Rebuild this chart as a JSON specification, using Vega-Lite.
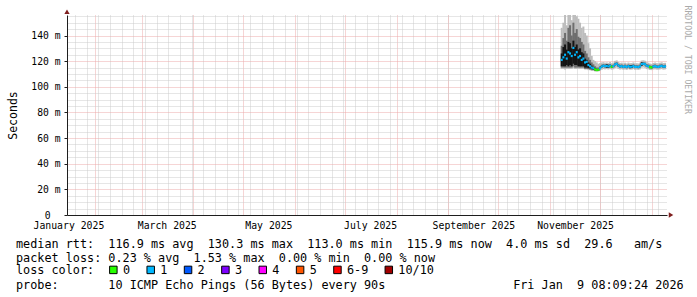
{
  "$schema": "https://vega.github.io/schema/vega-lite/v6.json",
  "width": 600,
  "height": 200,
  "autosize": {"type": "none"},
  "padding": {"left": 67, "top": 15, "right": 30, "bottom": 82},
  "background": "#ffffff",
  "config": {"view": {"stroke": null}, "font": "DejaVu Sans Mono"},
  "title": {
    "text": [
      "median rtt:\u00a0\u00a0116.9 ms avg\u00a0\u00a0130.3 ms max\u00a0\u00a0113.0 ms min\u00a0\u00a0115.9 ms now\u00a0\u00a04.0 ms sd\u00a0\u00a029.6\u00a0\u00a0\u00a0am/s",
      "packet loss: 0.23 % avg\u00a0\u00a01.53 % max\u00a0\u00a00.00 % min\u00a0\u00a00.00 % now"
    ],
    "subtitle": "probe:\u00a0\u00a0\u00a0\u00a0\u00a0\u00a0\u00a010 ICMP Echo Pings (56 Bytes) every 90s\u00a0\u00a0\u00a0\u00a0\u00a0\u00a0\u00a0\u00a0\u00a0\u00a0\u00a0\u00a0\u00a0\u00a0\u00a0\u00a0\u00a0\u00a0Fri Jan\u00a0\u00a09 08:09:24 2026",
    "orient": "bottom",
    "anchor": "start",
    "frame": "group",
    "offset": -38,
    "dx": -51,
    "font": "DejaVu Sans Mono",
    "fontSize": 11.8,
    "fontWeight": "normal",
    "color": "#000000",
    "lineHeight": 13.67,
    "baseline": "top",
    "subtitleFont": "DejaVu Sans Mono",
    "subtitleFontSize": 11.8,
    "subtitleFontWeight": "normal",
    "subtitleColor": "#000000",
    "subtitlePadding": 15.5,
    "limit": 1000
  },
  "data": {
    "values": [
      {"d":"2025-11-08","lo":114,"p1":115,"c1":116,"med":121,"c2":126,"p2":132,"hi":146,"loss":"1"},
      {"d":"2025-11-09","lo":114,"p1":115,"c1":116,"med":123,"c2":131,"p2":138,"hi":150,"loss":"1"},
      {"d":"2025-11-10","lo":113.5,"p1":115,"c1":116,"med":125,"c2":133,"p2":142,"hi":157,"loss":"1"},
      {"d":"2025-11-11","lo":114,"p1":115,"c1":117,"med":122,"c2":129,"p2":136,"hi":148,"loss":"1"},
      {"d":"2025-11-12","lo":114,"p1":115,"c1":116,"med":127,"c2":135,"p2":146,"hi":158,"loss":"1"},
      {"d":"2025-11-13","lo":114,"p1":115,"c1":117,"med":126,"c2":134,"p2":148,"hi":158,"loss":"1"},
      {"d":"2025-11-14","lo":114,"p1":115,"c1":116,"med":124,"c2":130,"p2":140,"hi":152,"loss":"1"},
      {"d":"2025-11-15","lo":114.5,"p1":116,"c1":118,"med":130.3,"c2":136,"p2":150,"hi":158,"loss":"1"},
      {"d":"2025-11-16","lo":114,"p1":115,"c1":117,"med":125,"c2":131,"p2":142,"hi":156,"loss":"1"},
      {"d":"2025-11-17","lo":114,"p1":115,"c1":117,"med":127,"c2":133,"p2":145,"hi":155,"loss":"1"},
      {"d":"2025-11-18","lo":114,"p1":115,"c1":116,"med":123,"c2":129,"p2":139,"hi":153,"loss":"1"},
      {"d":"2025-11-19","lo":114,"p1":115,"c1":116,"med":124,"c2":130,"p2":138,"hi":150,"loss":"1"},
      {"d":"2025-11-20","lo":114,"p1":115,"c1":116,"med":121,"c2":127,"p2":135,"hi":146,"loss":"1"},
      {"d":"2025-11-21","lo":114,"p1":115,"c1":116,"med":122,"c2":126,"p2":133,"hi":147,"loss":"1"},
      {"d":"2025-11-22","lo":113.5,"p1":114,"c1":115,"med":119,"c2":122,"p2":128,"hi":142,"loss":"1"},
      {"d":"2025-11-23","lo":113.5,"p1":114,"c1":115,"med":119.5,"c2":121,"p2":126,"hi":140,"loss":"1"},
      {"d":"2025-11-24","lo":113,"p1":114,"c1":114.5,"med":117,"c2":119,"p2":123,"hi":134,"loss":"1"},
      {"d":"2025-11-25","lo":113,"p1":113.5,"c1":114.5,"med":116,"c2":118,"p2":121,"hi":130,"loss":"1"},
      {"d":"2025-11-26","lo":112.5,"p1":113,"c1":114,"med":115,"c2":116.5,"p2":119,"hi":124,"loss":"1"},
      {"d":"2025-11-27","lo":112.5,"p1":113,"c1":113.5,"med":114.5,"c2":115.5,"p2":117.5,"hi":121,"loss":"1"},
      {"d":"2025-11-28","lo":112,"p1":112.5,"c1":113,"med":113.6,"c2":114.5,"p2":116,"hi":120,"loss":"0"},
      {"d":"2025-11-29","lo":112,"p1":112.5,"c1":112.7,"med":113.0,"c2":113.5,"p2":115,"hi":119,"loss":"0"},
      {"d":"2025-11-30","lo":112,"p1":112.5,"c1":112.8,"med":113.3,"c2":113.8,"p2":115,"hi":118,"loss":"0"},
      {"d":"2025-12-01","lo":112.3,"p1":113.6,"c1":114.0,"med":114.5,"c2":115.0,"p2":116.0,"hi":118.5,"loss":"1"},
      {"d":"2025-12-02","lo":113.3,"p1":114.8,"c1":115.3,"med":115.8,"c2":116.3,"p2":117.2,"hi":119.0,"loss":"1"},
      {"d":"2025-12-03","lo":113.8,"p1":115.4,"c1":115.9,"med":116.4,"c2":116.9,"p2":117.7,"hi":119.2,"loss":"1"},
      {"d":"2025-12-04","lo":113.6,"p1":115.0,"c1":115.5,"med":116.0,"c2":116.5,"p2":117.3,"hi":118.8,"loss":"1"},
      {"d":"2025-12-05","lo":113.8,"p1":114.9,"c1":115.0,"med":116.3,"c2":117.5,"p2":117.8,"hi":119.0,"loss":"1"},
      {"d":"2025-12-06","lo":113.5,"p1":114.7,"c1":114.8,"med":115.9,"c2":117.1,"p2":117.4,"hi":118.7,"loss":"1"},
      {"d":"2025-12-07","lo":114.0,"p1":115.5,"c1":116.0,"med":116.5,"c2":117.0,"p2":117.8,"hi":119.3,"loss":"1"},
      {"d":"2025-12-08","lo":113.4,"p1":114.6,"c1":115.1,"med":115.6,"c2":116.1,"p2":116.9,"hi":118.4,"loss":"0"},
      {"d":"2025-12-09","lo":113.7,"p1":115.1,"c1":115.6,"med":116.1,"c2":116.6,"p2":117.4,"hi":118.9,"loss":"1"},
      {"d":"2025-12-10","lo":114.6,"p1":116.4,"c1":116.9,"med":117.4,"c2":117.9,"p2":118.7,"hi":120.2,"loss":"1"},
      {"d":"2025-12-11","lo":115.0,"p1":116.9,"c1":117.4,"med":117.9,"c2":118.4,"p2":119.2,"hi":120.6,"loss":"1"},
      {"d":"2025-12-12","lo":114.0,"p1":115.6,"c1":116.1,"med":116.6,"c2":117.1,"p2":117.9,"hi":119.4,"loss":"1"},
      {"d":"2025-12-13","lo":113.5,"p1":114.8,"c1":115.3,"med":115.8,"c2":116.3,"p2":117.1,"hi":118.6,"loss":"1"},
      {"d":"2025-12-14","lo":113.7,"p1":115.1,"c1":115.6,"med":116.1,"c2":116.6,"p2":117.4,"hi":118.9,"loss":"1"},
      {"d":"2025-12-15","lo":113.3,"p1":114.5,"c1":115.0,"med":115.5,"c2":116.0,"p2":116.8,"hi":118.3,"loss":"1"},
      {"d":"2025-12-16","lo":113.6,"p1":115.0,"c1":115.5,"med":116.0,"c2":116.5,"p2":117.3,"hi":118.8,"loss":"1"},
      {"d":"2025-12-17","lo":113.2,"p1":114.4,"c1":114.9,"med":115.4,"c2":115.9,"p2":116.7,"hi":118.2,"loss":"1"},
      {"d":"2025-12-18","lo":113.7,"p1":115.1,"c1":115.6,"med":116.1,"c2":116.6,"p2":117.4,"hi":118.9,"loss":"1"},
      {"d":"2025-12-19","lo":113.4,"p1":114.5,"c1":114.5,"med":115.6,"c2":116.8,"p2":117.0,"hi":118.4,"loss":"1"},
      {"d":"2025-12-20","lo":113.4,"p1":114.6,"c1":114.6,"med":115.7,"c2":116.9,"p2":117.1,"hi":118.5,"loss":"1"},
      {"d":"2025-12-21","lo":113.8,"p1":115.2,"c1":115.7,"med":116.2,"c2":116.7,"p2":117.5,"hi":119.0,"loss":"1"},
      {"d":"2025-12-22","lo":113.3,"p1":114.5,"c1":115.0,"med":115.5,"c2":116.0,"p2":116.8,"hi":118.3,"loss":"1"},
      {"d":"2025-12-23","lo":113.4,"p1":114.6,"c1":115.1,"med":115.6,"c2":116.1,"p2":116.9,"hi":118.4,"loss":"1"},
      {"d":"2025-12-24","lo":113.2,"p1":114.4,"c1":114.9,"med":115.4,"c2":115.9,"p2":116.7,"hi":118.2,"loss":"1"},
      {"d":"2025-12-25","lo":113.6,"p1":115.0,"c1":115.5,"med":116.0,"c2":116.5,"p2":117.3,"hi":118.8,"loss":"1"},
      {"d":"2025-12-26","lo":114.9,"p1":116.5,"c1":116.4,"med":117.7,"c2":119.0,"p2":119.2,"hi":120.5,"loss":"1"},
      {"d":"2025-12-27","lo":115.1,"p1":117.0,"c1":117.5,"med":118.0,"c2":118.5,"p2":119.3,"hi":120.7,"loss":"1"},
      {"d":"2025-12-28","lo":114.8,"p1":116.6,"c1":117.1,"med":117.6,"c2":118.1,"p2":118.9,"hi":120.3,"loss":"1"},
      {"d":"2025-12-29","lo":113.8,"p1":115.4,"c1":115.9,"med":116.4,"c2":116.9,"p2":117.7,"hi":119.2,"loss":"1"},
      {"d":"2025-12-30","lo":113.6,"p1":115.0,"c1":115.5,"med":116.0,"c2":116.5,"p2":117.3,"hi":118.8,"loss":"1"},
      {"d":"2025-12-31","lo":113.1,"p1":114.3,"c1":114.8,"med":115.3,"c2":115.8,"p2":116.6,"hi":118.1,"loss":"0"},
      {"d":"2026-01-01","lo":113.0,"p1":114.1,"c1":114.6,"med":115.1,"c2":115.6,"p2":116.4,"hi":117.9,"loss":"0"},
      {"d":"2026-01-02","lo":113.5,"p1":114.8,"c1":115.3,"med":115.8,"c2":116.3,"p2":117.1,"hi":118.6,"loss":"1"},
      {"d":"2026-01-03","lo":113.7,"p1":115.1,"c1":115.6,"med":116.1,"c2":116.6,"p2":117.4,"hi":118.9,"loss":"1"},
      {"d":"2026-01-04","lo":113.4,"p1":114.6,"c1":115.1,"med":115.6,"c2":116.1,"p2":116.9,"hi":118.4,"loss":"1"},
      {"d":"2026-01-05","lo":113.3,"p1":114.5,"c1":115.0,"med":115.5,"c2":116.0,"p2":116.8,"hi":118.3,"loss":"1"},
      {"d":"2026-01-06","lo":113.6,"p1":115.0,"c1":115.5,"med":116.0,"c2":116.5,"p2":117.3,"hi":118.8,"loss":"1"},
      {"d":"2026-01-07","lo":113.8,"p1":115.3,"c1":115.8,"med":116.3,"c2":116.8,"p2":117.6,"hi":119.1,"loss":"1"},
      {"d":"2026-01-08","lo":113.4,"p1":114.7,"c1":115.2,"med":115.7,"c2":116.2,"p2":117.0,"hi":118.5,"loss":"1"},
      {"d":"2026-01-09","lo":113.6,"p1":114.9,"c1":115.4,"med":115.9,"c2":116.4,"p2":117.2,"hi":118.7,"loss":"1"}
    ]
  },
  "layer": [
    {
      "mark": {"type": "bar", "width": 2, "color": "#bdbdbd", "clip": true},
      "encoding": {
        "x": {
          "field": "d", "type": "temporal",
          "scale": {"type": "utc", "domain": [{"year": 2025, "month": 1, "date": 15, "hours": 4, "utc": true}, {"year": 2026, "month": 1, "date": 10, "hours": 4, "utc": true}], "nice": false, "padding": 0},
          "axis": {
            "orient": "bottom",
            "values": {"expr": "sequence(1737331200000, 1768176000001, 604800000)"},
            "grid": true, "gridColor": "#cccccc", "gridDash": [1, 1], "gridWidth": 1,
            "labels": false, "ticks": false, "domain": false, "title": null
          }
        },
        "y": {
          "field": "lo", "type": "quantitative",
          "scale": {"domain": [0, 156], "nice": false, "zero": false, "padding": 0},
          "axis": {
            "orient": "left",
            "values": [0, 5, 10, 15, 20, 25, 30, 35, 40, 45, 50, 55, 60, 65, 70, 75, 80, 85, 90, 95, 100, 105, 110, 115, 120, 125, 130, 135, 140, 145, 150, 155],
            "grid": true,
            "gridColor": {"condition": {"test": "datum.value % 20 === 0", "value": "#ecaaaa"}, "value": "#cccccc"},
            "gridOpacity": {"condition": {"test": "datum.value === 0", "value": 0}, "value": 1},
            "gridDash": [1, 1], "gridWidth": 1,
            "domain": true, "domainColor": "#1e1e1e", "domainWidth": 1,
            "ticks": true, "tickSize": 3, "tickColor": "#1e1e1e",
            "tickOpacity": {"condition": {"test": "datum.value % 20 === 0", "value": 1}, "value": 0},
            "labelExpr": "datum.value === 0 ? '0' : (datum.value % 20 === 0 ? datum.value + ' m' : '')",
            "labelFont": "DejaVu Sans Mono", "labelFontSize": 9.7, "labelColor": "#000000",
            "labelPadding": {"condition": {"test": "datum.value === 0", "value": 14}, "value": 4},
            "labelOverlap": false, "labelFlush": false,
            "title": "Seconds", "titleFont": "DejaVu Sans Mono", "titleFontSize": 11.5,
            "titleFontWeight": "normal", "titleColor": "#000000", "titlePadding": 12
          }
        },
        "y2": {"field": "hi"}
      }
    },
    {
      "mark": {"type": "bar", "width": 2, "color": "#6e6e6e", "clip": true},
      "encoding": {
        "x": {
          "field": "d", "type": "temporal",
          "scale": {"type": "utc", "domain": [{"year": 2025, "month": 1, "date": 15, "hours": 4, "utc": true}, {"year": 2026, "month": 1, "date": 10, "hours": 4, "utc": true}], "nice": false, "padding": 0},
          "axis": {
            "orient": "bottom",
            "values": [
              {"year": 2025, "month": 2, "date": 1, "utc": true},
              {"year": 2025, "month": 3, "date": 1, "utc": true},
              {"year": 2025, "month": 4, "date": 1, "utc": true},
              {"year": 2025, "month": 5, "date": 1, "utc": true},
              {"year": 2025, "month": 6, "date": 1, "utc": true},
              {"year": 2025, "month": 7, "date": 1, "utc": true},
              {"year": 2025, "month": 8, "date": 1, "utc": true},
              {"year": 2025, "month": 9, "date": 1, "utc": true},
              {"year": 2025, "month": 10, "date": 1, "utc": true},
              {"year": 2025, "month": 11, "date": 1, "utc": true},
              {"year": 2025, "month": 12, "date": 1, "utc": true},
              {"year": 2026, "month": 1, "date": 1, "utc": true}
            ],
            "grid": true, "gridColor": "#ecaaaa", "gridDash": [1, 1], "gridWidth": 1,
            "labels": false, "ticks": false, "domain": false, "title": null
          }
        },
        "y": {"field": "p1", "type": "quantitative", "scale": {"domain": [0, 156], "nice": false, "zero": false, "padding": 0}, "axis": null},
        "y2": {"field": "p2"}
      }
    },
    {
      "mark": {"type": "bar", "width": 2, "color": "#141414", "clip": true},
      "encoding": {
        "x": {
          "field": "d", "type": "temporal",
          "scale": {"type": "utc", "domain": [{"year": 2025, "month": 1, "date": 15, "hours": 4, "utc": true}, {"year": 2026, "month": 1, "date": 10, "hours": 4, "utc": true}], "nice": false, "padding": 0},
          "axis": null
        },
        "y": {
          "field": "c1", "type": "quantitative",
          "scale": {"domain": [0, 156], "nice": false, "zero": false, "padding": 0},
          "axis": {
            "orient": "right", "domain": false, "ticks": false, "labels": false, "grid": false,
            "title": "RRDTOOL / TOBI OETIKER", "titleAngle": 90,
            "titleFont": "DejaVu Sans Mono", "titleFontSize": 8.2, "titleFontWeight": "normal",
            "titleColor": "#aaaaaa", "titleX": 19, "titleY": -10, "titleAlign": "left", "titleBaseline": "middle"
          }
        },
        "y2": {"field": "c2"}
      }
    },
    {
      "mark": {"type": "tick", "orient": "horizontal", "size": 2, "thickness": 2.2, "opacity": 1},
      "encoding": {
        "x": {
          "field": "d", "type": "temporal",
          "scale": {"type": "utc", "domain": [{"year": 2025, "month": 1, "date": 15, "hours": 4, "utc": true}, {"year": 2026, "month": 1, "date": 10, "hours": 4, "utc": true}], "nice": false, "padding": 0},
          "axis": {
            "orient": "bottom",
            "values": [
              {"year": 2025, "month": 1, "date": 16, "utc": true},
              {"year": 2025, "month": 3, "date": 16, "utc": true},
              {"year": 2025, "month": 5, "date": 16, "utc": true},
              {"year": 2025, "month": 7, "date": 16, "utc": true},
              {"year": 2025, "month": 9, "date": 16, "utc": true},
              {"year": 2025, "month": 11, "date": 16, "utc": true}
            ],
            "labelExpr": "utcFormat(datum.value, '%B %Y')",
            "grid": false, "ticks": false, "domain": true, "domainColor": "#1e1e1e", "domainWidth": 1,
            "labelFont": "DejaVu Sans Mono", "labelFontSize": 9.8, "labelColor": "#000000",
            "labelPadding": 5.5, "labelOverlap": false, "labelFlush": false, "labelBound": false,
            "title": null
          }
        },
        "y": {"field": "med", "type": "quantitative", "scale": {"domain": [0, 156], "nice": false, "zero": false, "padding": 0}, "axis": null},
        "color": {
          "field": "loss", "type": "nominal",
          "scale": {
            "domain": ["0", "1", "2", "3", "4", "5", "6-9", "10/10"],
            "range": ["#26ff00", "#00b8ff", "#0059ff", "#7e00ff", "#ff00ff", "#ff5500", "#ff0000", "#a10000"]
          },
          "legend": {
            "orient": "none", "legendX": -51, "legendY": 249, "direction": "horizontal",
            "title": "loss color:", "titleOrient": "left",
            "titleFont": "DejaVu Sans Mono", "titleFontSize": 11.8, "titleFontWeight": "normal", "titleColor": "#000000",
            "titlePadding": 12.45, "titleBaseline": "middle",
            "labelFont": "DejaVu Sans Mono", "labelFontSize": 11.8, "labelColor": "#000000",
            "labelOffset": 3.65, "columnPadding": 14.35, "gridAlign": "none",
            "symbolType": "square", "symbolSize": 56, "symbolStrokeColor": "#000000", "symbolStrokeWidth": 1,
            "symbolOpacity": 1, "padding": 0, "offset": 0
          }
        }
      }
    },
    {
      "data": {"values": [{"arrow": "y"}]},
      "mark": {"type": "point", "shape": "triangle-up", "filled": true, "color": "#7f1f1f", "size": 28, "opacity": 1, "strokeWidth": 0},
      "encoding": {
        "x": {"datum": {"year": 2025, "month": 1, "date": 15, "hours": 4, "utc": true}, "type": "temporal", "scale": {"type": "utc", "domain": [{"year": 2025, "month": 1, "date": 15, "hours": 4, "utc": true}, {"year": 2026, "month": 1, "date": 10, "hours": 4, "utc": true}], "nice": false, "padding": 0}, "axis": null},
        "y": {"datum": 158.5, "type": "quantitative", "scale": {"domain": [0, 156], "nice": false, "zero": false, "padding": 0}, "axis": null}
      }
    },
    {
      "data": {"values": [{"arrow": "x"}]},
      "mark": {"type": "point", "shape": "triangle-right", "filled": true, "color": "#7f1f1f", "size": 28, "opacity": 1, "strokeWidth": 0},
      "encoding": {
        "x": {"datum": {"year": 2026, "month": 1, "date": 12, "hours": 14, "utc": true}, "type": "temporal", "scale": {"type": "utc", "domain": [{"year": 2025, "month": 1, "date": 15, "hours": 4, "utc": true}, {"year": 2026, "month": 1, "date": 10, "hours": 4, "utc": true}], "nice": false, "padding": 0}, "axis": null},
        "y": {"datum": 0, "type": "quantitative", "scale": {"domain": [0, 156], "nice": false, "zero": false, "padding": 0}, "axis": null}
      }
    }
  ],
  "resolve": {"axis": {"x": "independent", "y": "independent"}}
}
